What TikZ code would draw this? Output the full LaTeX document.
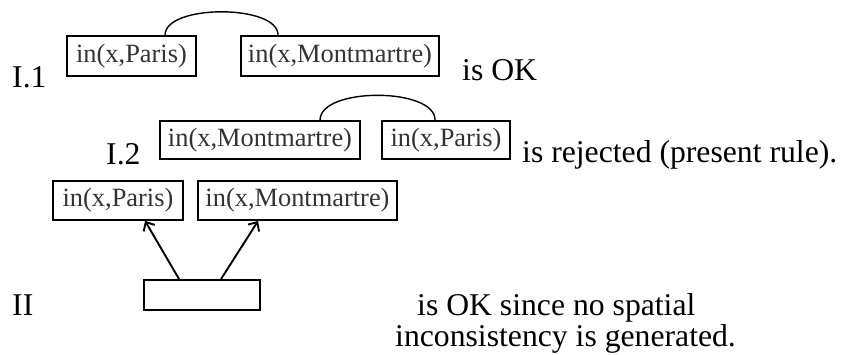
\documentclass[tikz,border=0pt]{standalone}
\usepackage{fontspec}
\setmainfont{Liberation Serif}
\usetikzlibrary{arrows.meta}
\begin{document}
\begin{tikzpicture}[x=1pt,y=-1pt,
  pbox/.style={draw=black,line width=1.9pt,inner sep=0pt,
    font=\fontsize{26.4}{26.4}\selectfont,text=black!80},
  lbl/.style={anchor=base west,inner sep=0pt,font=\fontsize{31.7}{31.7}\selectfont},
  link/.style={line width=1.4pt},
  arr/.style={line width=1.9pt,-{Straight Barb[length=7pt,width=13pt,line width=1.9pt]}}]
\useasboundingbox (0,0) rectangle (845,355);
% I.1
\node[lbl] (l11) at (12,88) {I.1};
\node[pbox,minimum width=129pt,minimum height=40pt] (b1) at (131.5,56) {in(x,Paris)};
\node[pbox,minimum width=198pt,minimum height=40pt] (b2) at (340,56) {in(x,Montmartre)};
\node[lbl] (t1) at (462,81) {is OK};
\draw[link] ([xshift=99pt]b1.north west) .. controls +(0,-31) and +(0,-31) .. ([xshift=38pt]b2.north west);
% I.2
\node[lbl] (l12) at (106,165) {I.2};
\node[pbox,minimum width=200pt,minimum height=38pt] (b3) at (260,140) {in(x,Montmartre)};
\node[pbox,minimum width=128pt,minimum height=38pt] (b4) at (446,140) {in(x,Paris)};
\node[lbl] (t2) at (522,163) {is rejected (present rule).};
\draw[link] ([xshift=161pt]b3.north west) .. controls +(0,-33) and +(0,-33) .. ([xshift=54pt]b4.north west);
% II
\node[pbox,minimum width=130pt,minimum height=39pt] (b5) at (118,200.5) {in(x,Paris)};
\node[pbox,minimum width=199pt,minimum height=39pt] (b6) at (297.5,200.5) {in(x,Montmartre)};
\node[pbox,minimum width=116pt,minimum height=30pt] (b7) at (202,295) {};
\draw[arr] ([xshift=36pt]b7.north west) -- ([xshift=93pt]b5.south west);
\draw[arr] ([xshift=78pt]b7.north west) -- ([xshift=61pt]b6.south west);
\node[lbl] (l2) at (12,315) {II};
\node[lbl] (t3) at (417,315) {is OK since no spatial};
\node[lbl] (t4) at (395,346) {inconsistency is generated.};
\end{tikzpicture}
\end{document}
